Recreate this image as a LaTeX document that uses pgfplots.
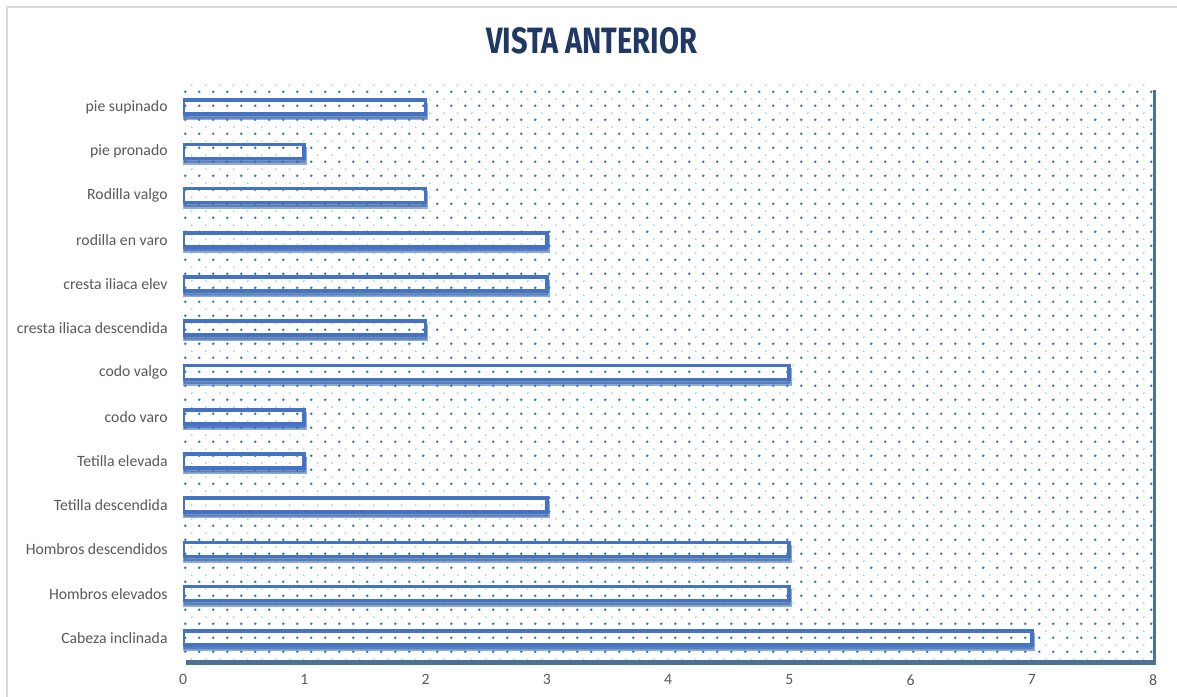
\documentclass[border=0pt]{standalone}
\usepackage{pgfplots}
\pgfplotsset{compat=1.18}
\usepackage{fontspec}
\setmainfont{Carlito}
\newfontfamily\titlefont{Fira Sans}
\usetikzlibrary{patterns,shadows}
\definecolor{barblue}{HTML}{4472C4}
\definecolor{shadowblue}{HTML}{1F4E79}
\definecolor{dotblue}{HTML}{2E75B6}
\definecolor{dotlight}{HTML}{9DC3E6}
\definecolor{titleblue}{HTML}{203864}
\definecolor{labelgray}{HTML}{595959}
\definecolor{framegray}{HTML}{D9D9D9}
\pgfdeclarepatterninherentlycolored{bluedots}{\pgfpointorigin}{\pgfpoint{7bp}{7bp}}{\pgfpoint{7bp}{7bp}}{%
  \pgfsetfillcolor{dotblue}%
  \pgfpathcircle{\pgfpoint{1.75bp}{1.75bp}}{0.75bp}\pgfusepath{fill}%
  \pgfsetfillcolor{dotlight}%
  \pgfpathcircle{\pgfpoint{5.25bp}{5.25bp}}{0.5bp}\pgfusepath{fill}%
}
\begin{document}
\begin{tikzpicture}
\useasboundingbox (0,0) rectangle (588.5bp,348.5bp);
\fill[white] (0,0) rectangle (588.5bp,348.5bp);
\draw[framegray, line width=1bp] (3.5bp,0) -- (3.5bp,345bp) -- (588.5bp,345bp);
\node[text=titleblue, inner sep=0pt] at (295.75bp,328bp) {\resizebox{105.5bp}{13bp}{\titlefont\bfseries VISTA ANTERIOR}};
\begin{axis}[
  at={(91.5bp,18.5bp)}, anchor=south west,
  scale only axis, width=485bp, height=287.5bp,
  xbar, bar width=7bp, bar shift=0pt,
  xmin=0, xmax=8, ymin=-0.5, ymax=12.5,
  xtick={0,1,...,8}, ytick={0,1,...,12},
  yticklabels={Cabeza inclinada, Hombros elevados, Hombros descendidos, Tetilla descendida, Tetilla elevada, codo varo, codo valgo, cresta iliaca descendida, cresta iliaca elev\ , rodilla en varo, Rodilla valgo, pie pronado\ , pie supinado},
  /pgf/number format/assume math mode=true,
  tick label style={font=\fontsize{7.9}{9.5}\selectfont, text=labelgray},
  yticklabel style={anchor=east, inner sep=0pt, xshift=-7.5bp},
  xticklabel style={anchor=north, inner sep=0pt, yshift=-7bp},
  major tick length=0pt,
  axis line style={draw=none},
  tick style={draw=none},
  axis background/.style={fill=white, drop shadow={shadow xshift=1.5bp, shadow yshift=-2.5bp, fill=shadowblue, opacity=0.8}, postaction={pattern=bluedots}},
]
\addplot[draw=barblue, line width=1.8bp, fill=white, postaction={pattern=bluedots},
  drop shadow={shadow xshift=0.5bp, shadow yshift=-2.2bp, fill=shadowblue, opacity=0.6}]
  coordinates {(7,0) (5,1) (5,2) (3,3) (1,4) (1,5) (5,6) (2,7) (3,8) (3,9) (2,10) (1,11) (2,12)};
\end{axis}
\end{tikzpicture}
\end{document}
